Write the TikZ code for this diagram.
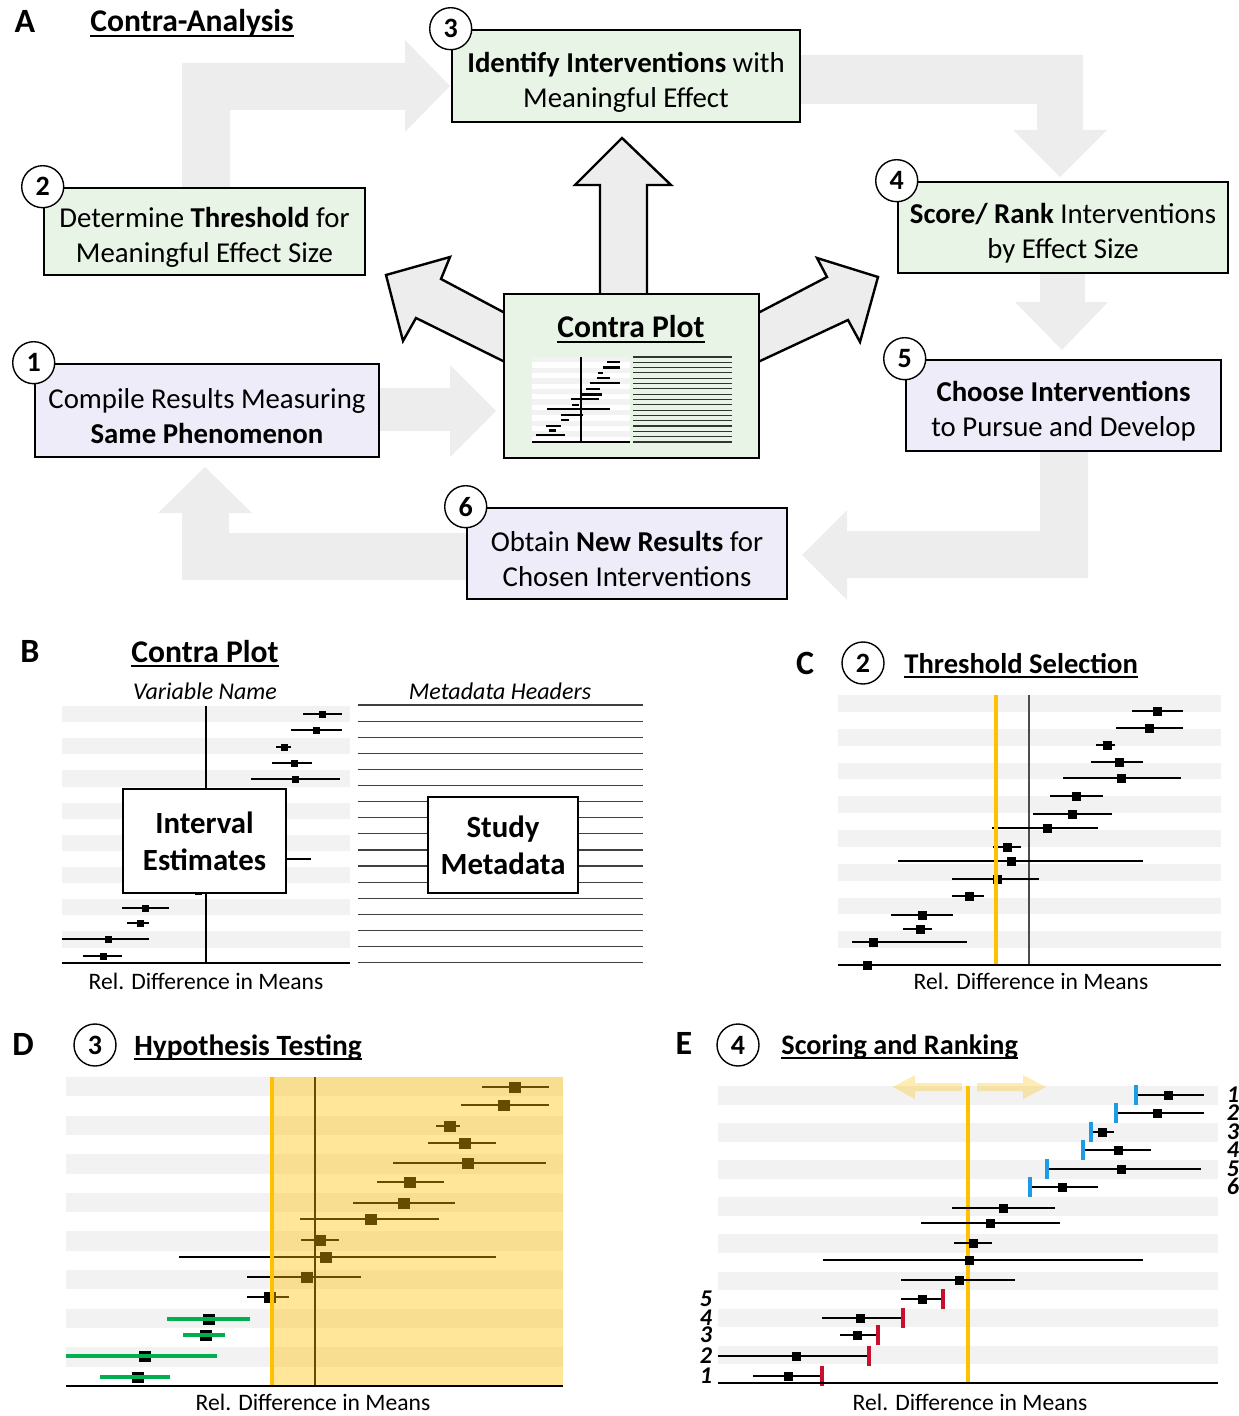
\documentclass[tikz,border=0pt]{standalone}
\usepackage{fontspec}
\setmainfont{Carlito}

\definecolor{stepgreen}{RGB}{232,244,230}
\definecolor{steppurple}{RGB}{238,236,248}
\definecolor{flowgray}{RGB}{237,237,237}
\definecolor{bandgray}{RGB}{242,242,242}
\definecolor{threshorange}{RGB}{255,192,0}
\definecolor{sigreen}{RGB}{0,176,80}
\definecolor{rankblue}{RGB}{30,155,230}
\definecolor{rankred}{RGB}{200,16,46}

\newcommand\stepfont{\fontsize{14.4}{17.5}\selectfont}
\newcommand\headingfont{\fontsize{14.5}{17}\selectfont\bfseries}
\newcommand\bigheadingfont{\fontsize{15.8}{18}\selectfont\bfseries}
\newcommand\letterfont{\fontsize{17}{20}\selectfont\bfseries}
\newcommand\numberfont{\fontsize{14}{16}\selectfont\bfseries}
\newcommand\axislabelfont{\fontsize{11.8}{14}\selectfont}
\newcommand\colheadfont{\fontsize{12}{14}\selectfont\itshape}
\newcommand\overlayfont{\fontsize{15.4}{18.5}\selectfont\bfseries}
\newcommand\rankfont{\fontsize{12}{14}\selectfont\bfseries\itshape}
\newcommand\thickul[1]{\leavevmode{\setbox0=\hbox{#1}\dp0=0pt\vtop{\box0\kern1.6pt\hrule height 1pt}}}
\newcommand\stepstrut{\rule{0pt}{16pt}}

% rows of the threshold panel: y / lower / upper / estimate
\newcommand\thresholddata{711/1132/1183/1157,728/1116/1183/1149,745/1096/1115/1107,762/1091/1143/1119,778/1063/1181/1121,796/1050/1103/1076,814/1033/1112/1072,828/992/1098/1047,847/993/1021/1007,861/898/1143/1011,879/952/1039/997,896/952/984/969,915/891/953/922,929/903/932/920,942/852/967/873,965/838/890/867}

\begin{document}
\begin{tikzpicture}[
    x=0.5pt, y=-0.5pt,
    every node/.style = {align=center, inner sep=0pt},
    stepbox/.style    = {draw, line width=1.3pt, font=\stepfont},
    greenbox/.style   = {stepbox, fill=stepgreen},
    purplebox/.style  = {stepbox, fill=steppurple},
    stepnum/.style    = {circle, draw, fill=white, line width=0.7pt, minimum size=21pt, font=\numberfont},
    flow/.style       = {fill=flowgray},
    outflow/.style    = {fill=flowgray, draw=black, line width=1.2pt},
    band/.style       = {fill=bandgray},
    ci/.style         = {line width=1.25pt},
    zeroline/.style   = {line width=0.65pt},
    axisline/.style   = {line width=0.75pt},
    threshold/.style  = {draw=threshorange, line width=1.8pt},
    metaline/.style   = {draw=black!75, line width=0.6pt},
    overlaybox/.style = {draw, fill=white, line width=0.8pt, font=\overlayfont},
    letter/.style     = {anchor=base, font=\letterfont},
    heading/.style    = {anchor=base west, font=\headingfont},
    axislabel/.style  = {anchor=base, font=\axislabelfont},
    rank/.style       = {font=\rankfont, text height=7.4pt, text depth=0pt}
  ]
  \useasboundingbox (0,0) rectangle (1238,1416);

  %% A: contra-analysis cycle
  \node (labA)   [letter]  at (25,33) {A};
  \node (titleA) [heading, font=\bigheadingfont] at (90,32) {\thickul{Contra-Analysis}};

  \fill[flow] (182,188) -- (182,63) -- (405,63) -- (405,40) -- (450,86) -- (405,132) -- (405,110) -- (230,110) -- (230,188) -- cycle;
  \fill[flow] (800,55) -- (1083,55) -- (1083,130) -- (1107,130) -- (1060,177) -- (1013,130) -- (1037,130) -- (1037,104) -- (800,104) -- cycle;
  \fill[flow] (1040,273) -- (1085,273) -- (1085,302) -- (1108,302) -- (1062,350) -- (1015,302) -- (1040,302) -- cycle;
  \fill[flow] (1040,451) -- (1088,451) -- (1088,578) -- (847,578) -- (847,600) -- (802,555) -- (847,510) -- (847,531) -- (1040,531) -- cycle;
  \fill[flow] (467,533) -- (467,580) -- (182,580) -- (182,513) -- (158,513) -- (205,467) -- (252,513) -- (229,513) -- (229,533) -- cycle;
  \fill[flow] (379,388) -- (450,388) -- (450,365) -- (496,411) -- (450,457) -- (450,431) -- (379,431) -- cycle;

  \filldraw[outflow] (600,296) -- (600,185) -- (575,185) -- (622,138) -- (671,185) -- (647,185) -- (647,296);
  \filldraw[outflow] (505,313) -- (441,279) -- (450,257) -- (386,275) -- (403,341) -- (416,318) -- (505,362);
  \filldraw[outflow] (758,313) -- (827,277) -- (817,258) -- (878,277) -- (860,342) -- (848,320) -- (758,362);

  \node (compile)    [purplebox, minimum width=172pt, minimum height=46.5pt]  at (207,410.5)   {\stepstrut Compile Results Measuring\\\textbf{Same Phenomenon}};
  \node (determine)  [greenbox, minimum width=160.5pt, minimum height=43.5pt] at (204.5,231.5) {\stepstrut Determine \textbf{Threshold} for\\Meaningful Effect Size};
  \node (identify)   [greenbox, minimum width=174pt, minimum height=46pt]     at (626,76)      {\stepstrut\textbf{Identify Interventions} with\\Meaningful Effect};
  \node (scorerank)  [greenbox, minimum width=165pt, minimum height=45.5pt]   at (1063,227.5)  {\stepstrut\textbf{Score/ Rank} Interventions\\by Effect Size};
  \node (choose)     [purplebox, minimum width=157.5pt, minimum height=45.5pt] at (1063.5,405.5) {\stepstrut\textbf{Choose Interventions}\\to Pursue and Develop};
  \node (obtain)     [purplebox, minimum width=160pt, minimum height=45.5pt]  at (627,553.5)   {\stepstrut Obtain \textbf{New Results} for\\Chosen Interventions};
  \node (contraplot) [greenbox, minimum width=127.5pt, minimum height=82pt]   at (631.5,376)   {};

  \node (num1) [stepnum] at (compile.north west)   {1};
  \node (num2) [stepnum] at (determine.north west) {2};
  \node (num3) [stepnum] at (identify.north west)  {3};
  \node (num4) [stepnum] at (scorerank.north west) {4};
  \node (num5) [stepnum] at (choose.north west)    {5};
  \node (num6) [stepnum] at (obtain.north west)    {6};

  % small contra plot
  \node (contratitle) [anchor=base, font=\bigheadingfont] at (631,338) {\thickul{Contra Plot}};
  \fill[white] (532,357) rectangle (630,442);
  \foreach \k in {0,...,7} \fill[band] (532,{357+10.62*\k}) rectangle (630,{362.3+10.62*\k});
  \draw[zeroline] (581,357) -- (581,442);
  \foreach \y/\lo/\hi/\m in \thresholddata
    \draw[line width=1.2pt] ({532+0.2559*(\lo-838)},{357+0.3148*(\y-695)}) -- ({532+0.2559*(\hi-838)},{357+0.3148*(\y-695)});
  \draw[axisline] (532,442) -- (630,442);
  \foreach \k in {0,...,16} \draw[line width=0.55pt, black!80] (633,{357+5.31*\k}) -- (732,{357+5.31*\k});

  %% B: contra plot layout
  \node (labB)      [letter] at (30,662) {B};
  \node (titleB)    [anchor=base, font=\bigheadingfont] at (205,662) {\thickul{Contra Plot}};
  \node (varname)   [anchor=base, font=\colheadfont] at (205,699) {Variable Name};
  \node (metaheads) [anchor=base, font=\colheadfont] at (500,699) {Metadata Headers};

  \foreach \k in {0,...,7} \fill[band] (62,{706+32.2*\k}) rectangle (350,{722.1+32.2*\k});
  \draw[zeroline] (206,706) -- (206,963);
  \foreach \y/\lo/\hi/\m in {714/303/342/322,730/291/342/316,747/276/291/284,763/272/312/294,779/251/340/295,
      795/240/285/262,811/230/287/258,827/215/280/245,843/205/270/238,859/160/311/240,875/190/250/215,
      891/180/215/198,908/122/169/145,923/127/149/140,939/62/149/108,956/83/122/103} {
    \draw[ci] (\lo,\y) -- (\hi,\y);
    \fill ({\m-3.5},{\y-3.5}) rectangle ({\m+3.5},{\y+3.5});
  }
  \draw[axisline] (62,963) -- (350,963);
  \foreach \k in {0,...,16} \draw[metaline] (358,{705+16.1*\k}) -- (643,{705+16.1*\k});

  \node (intervalest) [overlaybox, minimum width=81.5pt, minimum height=52pt] at (204.5,841) {Interval\\Estimates};
  \node (studymeta)   [overlaybox, minimum width=75pt, minimum height=48pt]   at (503,845)   {Study\\Metadata};
  \node (axisB) [axislabel] at (206,989) {Rel. Difference in Means};

  %% C: threshold selection
  \node (labC)   [letter]  at (805,674) {C};
  \node (numC)   [stepnum] at (863,663) {2};
  \node (titleC) [heading, font=\fontsize{14.3}{17}\selectfont\bfseries] at (904,673) {\thickul{Threshold Selection}};

  \foreach \k in {0,...,7} \fill[band] (838,{695+33.75*\k}) rectangle (1221,{711.9+33.75*\k});
  \draw[zeroline, black!70] (1029,695) -- (1029,965);
  \foreach \y/\lo/\hi/\m in \thresholddata {
    \draw[ci] (\lo,\y) -- (\hi,\y);
    \fill ({\m-4.5},{\y-4.5}) rectangle ({\m+4.5},{\y+4.5});
  }
  \draw[threshold] (996,695) -- (996,965);
  \draw[axisline] (838,965) -- (1221,965);
  \node (axisC) [axislabel] at (1031,989) {Rel. Difference in Means};

  %% D: hypothesis testing
  \node (labD)   [letter]  at (23,1055) {D};
  \node (numD)   [stepnum] at (95,1045) {3};
  \node (titleD) [heading, font=\fontsize{14.7}{17}\selectfont\bfseries] at (134,1055) {\thickul{Hypothesis Testing}};

  \foreach \k in {0,...,7} \fill[band] (66,{1077+38.62*\k}) rectangle (563,{1096.3+38.62*\k});
  \draw[zeroline] (315,1077) -- (315,1386);
  \foreach \y/\lo/\hi/\m in {1087/482/549/515,1105/461/549/504,1126/436/460/450,1143/428/496/465,1163/393/546/468,
      1182/377/444/410,1203/353/455/404,1219/300/439/371,1240/301/339/320,1257/179/496/326,1277/247/361/307,1297/247/289/270} {
    \draw[ci] (\lo,\y) -- (\hi,\y);
    \fill ({\m-6},{\y-5.5}) rectangle ({\m+6},{\y+5.5});
  }
  % significantly below threshold
  \foreach \y/\lo/\hi/\m in {1319/167/250/209,1335/183/225/206,1356/66/217/145,1377/100/170/138} {
    \fill ({\m-6},{\y-5.5}) rectangle ({\m+6},{\y+5.5});
    \draw[ci, sigreen, line width=1.8pt] (\lo,\y) -- (\hi,\y);
  }
  \fill[threshorange, opacity=0.4] (272,1077) rectangle (563,1386);
  \draw[threshold] (272,1077) -- (272,1386);
  \draw[axisline] (66,1386) -- (563,1386);
  \node (axisD) [axislabel] at (313,1410) {Rel. Difference in Means};

  %% E: scoring and ranking
  \node (labE)   [letter]  at (684,1054) {E};
  \node (numE)   [stepnum] at (738,1045) {4};
  \node (titleE) [heading, font=\fontsize{14.1}{17}\selectfont\bfseries] at (781,1054) {\thickul{Scoring and Ranking}};

  \foreach \k in {0,...,7} \fill[band] (718,{1086+37.12*\k}) rectangle (1218,{1104.6+37.12*\k});
  \fill[threshorange, opacity=0.3] (962,1083) -- (915,1083) -- (915,1075) -- (893,1087) -- (915,1099) -- (915,1091) -- (962,1091) -- cycle;
  \fill[threshorange, opacity=0.3] (977,1083) -- (1023,1083) -- (1023,1075) -- (1046,1087) -- (1023,1099) -- (1023,1091) -- (977,1091) -- cycle;
  \draw[threshold] (968,1086) -- (968,1383);
  \foreach \y/\lo/\hi/\m in {1095/1136/1204/1168,1113/1116/1204/1157,1132/1091/1114/1102,1150/1083/1151/1118,
      1169/1047/1201/1121,1187/1030/1098/1062,1208/952/1055/1003,1223/921/1060/990,1243/954/992/973,
      1260/823/1143/969,1280/901/1015/959,1299/901/943/922,1318/822/903/860,1335/840/878/857,
      1356/718/869/796,1376/753/822/788} {
    \draw[ci] (\lo,\y) -- (\hi,\y);
    \fill ({\m-4.5},{\y-4.5}) rectangle ({\m+4.5},{\y+4.5});
  }
  % lower bounds of the top six, upper bounds of the bottom five
  \foreach \y/\x/\r in {1095/1136/1,1113/1116/2,1132/1091/3,1150/1083/4,1169/1047/5,1187/1030/6} {
    \fill[rankblue] ({\x-2},{\y-10}) rectangle ({\x+2},{\y+10});
    \node (rankhi\r) [rank] at (1233,\y) {\r};
  }
  \foreach \y/\x/\r in {1299/943/5,1318/903/4,1335/878/3,1356/869/2,1376/822/1} {
    \fill[rankred] ({\x-2},{\y-10}) rectangle ({\x+2},{\y+10});
    \node (ranklo\r) [rank] at (706,\y) {\r};
  }
  \draw[axisline] (718,1383) -- (1218,1383);
  \node (axisE) [axislabel] at (970,1410) {Rel. Difference in Means};

\end{tikzpicture}
\end{document}
